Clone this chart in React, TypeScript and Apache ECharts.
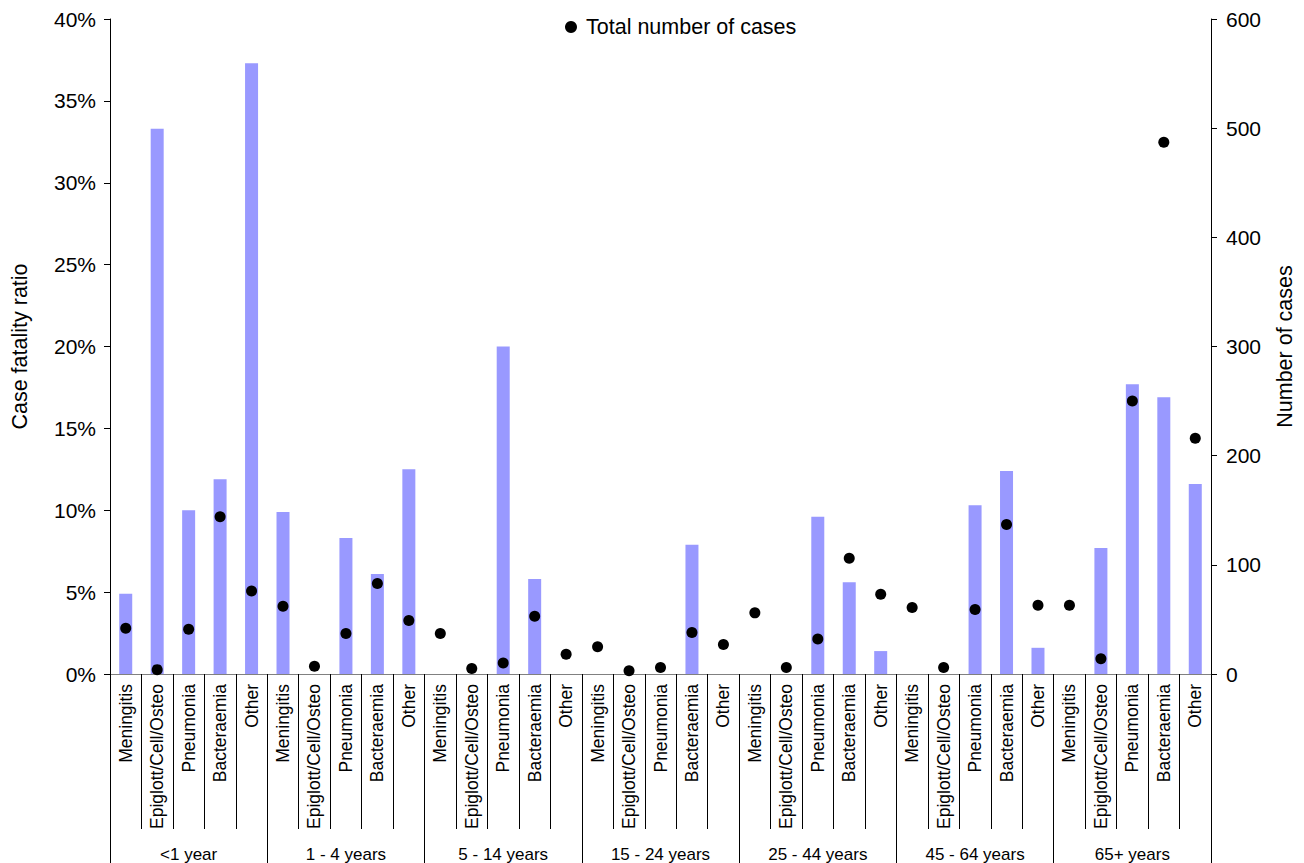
import React, { useEffect, useRef } from "react";
import * as echarts from "echarts";

const conditions = ["Meningitis", "Epiglott/Cell/Osteo", "Pneumonia", "Bacteraemia", "Other"];
const ageGroups = ["<1 year", "1 - 4 years", "5 - 14 years", "15 - 24 years", "25 - 44 years", "45 - 64 years", "65+ years"];

// Case fatality ratio (%) per age group x condition
const cfrUnder1 = [4.9, 33.3, 10.0, 11.9, 37.3];
const cfr1to4 = [9.9, 0, 8.3, 6.1, 12.5];
const cfr5to14 = [0, 0, 20.0, 5.8, 0];
const cfr15to24 = [0, 0, 0, 7.9, 0];
const cfr25to44 = [0, 0, 9.6, 5.6, 1.4];
const cfr45to64 = [0, 0, 10.3, 12.4, 1.6];
const cfr65plus = [0, 7.7, 17.7, 16.9, 11.6];

// Total number of cases per age group x condition
const casesUnder1 = [42, 4, 41, 144, 76];
const cases1to4 = [62, 7, 37, 83, 49];
const cases5to14 = [37, 5, 10, 53, 18];
const cases15to24 = [25, 3, 6, 38, 27];
const cases25to44 = [56, 6, 32, 106, 73];
const cases45to64 = [61, 6, 59, 137, 63];
const cases65plus = [63, 14, 250, 487, 216];

const leftTicks = { min: 0, max: 40, interval: 5 };
const rightTicks = { min: 0, max: 600, interval: 100 };

export default function App() {
  const ref = useRef<HTMLDivElement>(null);
  useEffect(() => {
    if (!ref.current) return;
    const chart = echarts.init(ref.current, null, { renderer: "svg" });
    const categories: string[] = [];
    ageGroups.forEach(() => conditions.forEach((c) => categories.push(c)));
    const cfr = [...cfrUnder1, ...cfr1to4, ...cfr5to14, ...cfr15to24, ...cfr25to44, ...cfr45to64, ...cfr65plus];
    const cases = [...casesUnder1, ...cases1to4, ...cases5to14, ...cases15to24, ...cases25to44, ...cases45to64, ...cases65plus];
    const font = "'Liberation Sans', Arial, sans-serif";
    chart.setOption({
      animation: false,
      backgroundColor: "#fff",
      textStyle: { fontFamily: font, color: "#000" },
      grid: { left: 110, right: 91, top: 19, bottom: 188, containLabel: false },
      legend: {
        data: [{ name: "Total number of cases", icon: "circle" }],
        left: 560,
        top: 11,
        itemWidth: 20,
        itemHeight: 12,
        itemStyle: { opacity: 1, color: "#000" },
        textStyle: { fontSize: 21.5, color: "#000", fontFamily: font },
      },
      xAxis: [
        {
          type: "category",
          data: categories,
          position: "bottom",
          axisLine: { show: true, lineStyle: { color: "#808080", width: 1 } },
          axisTick: { show: true, interval: 0, length: 155, lineStyle: { color: "#000" } },
          axisLabel: { interval: 0, rotate: 90, fontSize: 17.5, color: "#000", margin: 10, fontFamily: font },
        },
        {
          type: "category",
          data: ageGroups,
          position: "bottom",
          axisLine: { show: false },
          axisTick: { show: true, interval: 0, length: 200, lineStyle: { color: "#000" } },
          axisLabel: { interval: 0, fontSize: 17, color: "#000", margin: 172, fontFamily: font },
        },
      ],
      yAxis: [
        {
          type: "value",
          name: "Case fatality ratio",
          nameLocation: "middle",
          nameGap: 79,
          nameTextStyle: { fontSize: 21.5, color: "#000", fontFamily: font },
          min: leftTicks.min,
          max: leftTicks.max,
          interval: leftTicks.interval,
          position: "left",
          axisLine: { show: true, lineStyle: { color: "#000" } },
          axisTick: { show: true, length: 6, lineStyle: { color: "#000" } },
          axisLabel: { formatter: "{value}%", fontSize: 21, color: "#000", margin: 14, fontFamily: font },
          splitLine: { show: false },
        },
        {
          type: "value",
          name: "Number of cases",
          nameLocation: "middle",
          nameGap: 63,
          nameTextStyle: { fontSize: 21.5, color: "#000", fontFamily: font },
          min: rightTicks.min,
          max: rightTicks.max,
          interval: rightTicks.interval,
          position: "right",
          axisLine: { show: true, lineStyle: { color: "#000" } },
          axisTick: { show: true, length: 6, lineStyle: { color: "#000" } },
          axisLabel: { fontSize: 21, color: "#000", margin: 15, fontFamily: font },
          splitLine: { show: false },
        },
      ],
      series: [
        {
          name: "Case fatality ratio",
          type: "bar",
          xAxisIndex: 0,
          yAxisIndex: 0,
          data: cfr,
          barWidth: 13,
          itemStyle: { color: "#9999FF" },
        },
        {
          name: "Total number of cases",
          type: "scatter",
          xAxisIndex: 0,
          yAxisIndex: 1,
          data: cases,
          symbol: "circle",
          symbolSize: 11,
          itemStyle: { color: "#000", opacity: 1 },
          z: 3,
        },
      ],
    });
    return () => chart.dispose();
  }, []);
  return <div ref={ref} style={{ position: "fixed", left: 0, top: 0, width: 1304, height: 863 }} />;
}
